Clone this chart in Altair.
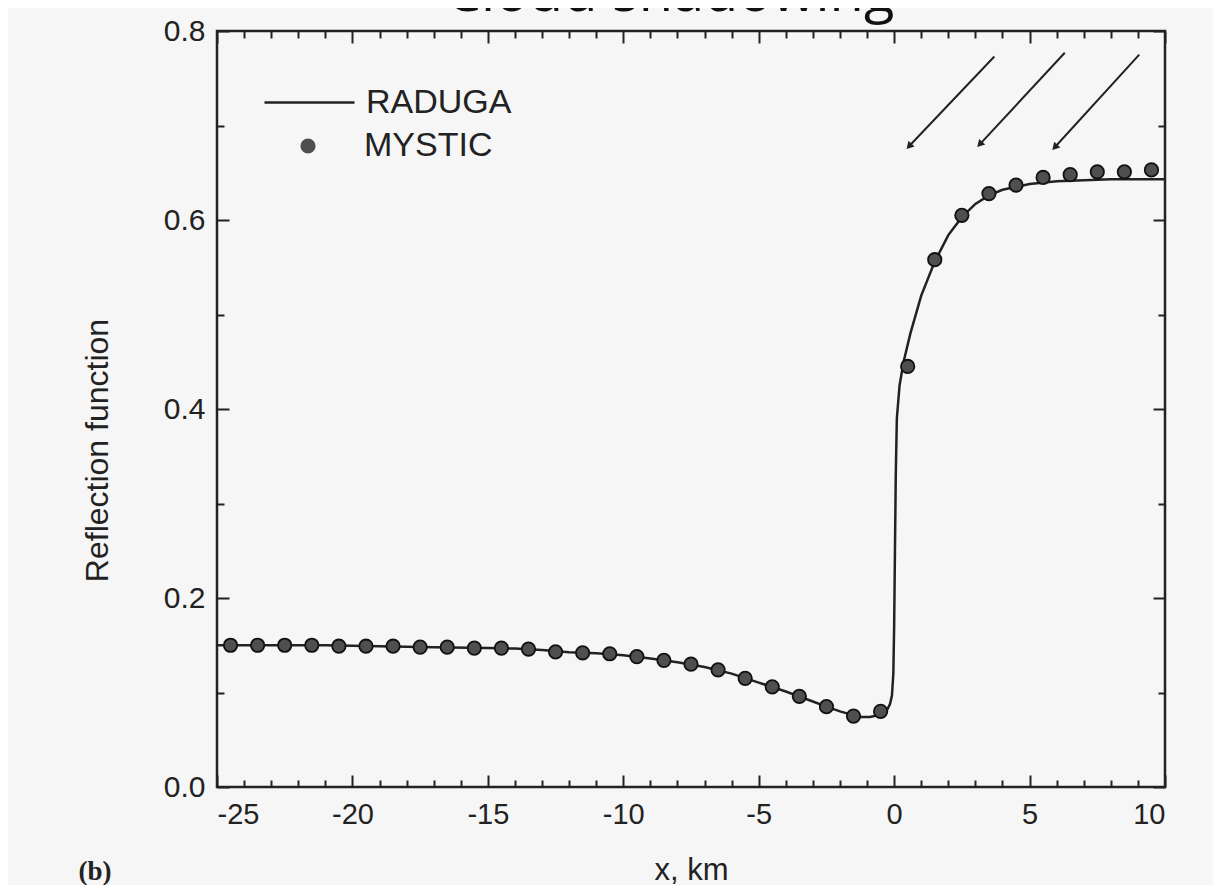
import altair as alt
import pandas as pd

# ---------------- data ----------------
X_MAJOR = [-25, -20, -15, -10, -5, 0, 5, 10]
X_MINOR = [v for v in range(-24, 10) if v % 5 != 0]
Y_MAJOR = [0.0, 0.2, 0.4, 0.6, 0.8]
Y_MINOR = [0.1, 0.3, 0.5, 0.7]

# RADUGA (solid line)
raduga_x = [-25, -23, -21, -19, -17, -15, -14, -13, -12, -11, -10, -9, -8, -7, -6, -5,
            -4, -3, -2.5, -2, -1.5, -1.2, -0.9, -0.6, -0.4, -0.25, -0.15, -0.08, -0.03,
            0.0, 0.03, 0.06, 0.1, 0.2, 0.35, 0.6, 1.0, 1.5, 2.0, 2.5, 3.0, 3.5, 4.0,
            5.0, 6.0, 7.0, 8.0, 10.0]
raduga_y = [0.150, 0.150, 0.150, 0.149, 0.148, 0.147, 0.1465, 0.145, 0.1425, 0.1415, 0.1395,
            0.136, 0.132, 0.127, 0.120, 0.1105, 0.101, 0.0905, 0.085, 0.080, 0.076, 0.074,
            0.074, 0.076, 0.078, 0.082, 0.088, 0.097, 0.12, 0.17, 0.25, 0.33, 0.39, 0.425,
            0.45, 0.48, 0.52, 0.556, 0.584, 0.603, 0.617, 0.626, 0.632, 0.638, 0.641,
            0.642, 0.643, 0.643]

# MYSTIC (dots)
mystic_x = [-24.5, -23.5, -22.5, -21.5, -20.5, -19.5, -18.5, -17.5, -16.5, -15.5, -14.5,
            -13.5, -12.5, -11.5, -10.5, -9.5, -8.5, -7.5, -6.5, -5.5, -4.5, -3.5, -2.5,
            -1.5, -0.5, 0.5, 1.5, 2.5, 3.5, 4.5, 5.5, 6.5, 7.5, 8.5, 9.5]
mystic_y = [0.150, 0.150, 0.150, 0.150, 0.149, 0.149, 0.149, 0.148, 0.148, 0.147, 0.147,
            0.146, 0.143, 0.142, 0.141, 0.138, 0.134, 0.130, 0.124, 0.115, 0.106, 0.096,
            0.085, 0.075, 0.080, 0.445, 0.558, 0.605, 0.628, 0.637, 0.645, 0.648, 0.651,
            0.651, 0.653]

# sun-direction arrows (start -> end, data units)
arrow_x_start = [3.7, 6.3, 9.05]
arrow_y_start = [0.773, 0.777, 0.775]
arrow_x_end = [0.55, 3.16, 5.93]
arrow_y_end = [0.678, 0.680, 0.677]

TITLE = "Cloud shadowing"
PANEL = "(b)"

# ---------------- layout ----------------
W, H = 948, 756
FONT = "Liberation Sans"
INK = "#222222"

df_line = pd.DataFrame({"x": raduga_x, "y": raduga_y, "series": "RADUGA"})
df_pts = pd.DataFrame({"x": mystic_x, "y": mystic_y, "series2": "MYSTIC"})
df_arr = pd.DataFrame({"x1": arrow_x_start, "y1": arrow_y_start,
                       "x2": arrow_x_end, "y2": arrow_y_end})

xs = alt.Scale(domain=[-25, 10], nice=False, zero=False)
ys = alt.Scale(domain=[0, 0.8], nice=False, zero=False)


def tick_axis(orient, values, size, offset):
    return alt.Axis(orient=orient, offset=offset, values=values, tickSize=size,
                    tickWidth=2, tickColor=INK, labels=False, domain=False,
                    grid=False, title=None)


x_label_axis = alt.Axis(orient="bottom", values=X_MAJOR, ticks=False, domain=False,
                        grid=False, labelFont=FONT, labelFontSize=29, labelColor=INK,
                        labelPadding=13,
                        labelExpr="datum.value < 0 ? '-' + abs(datum.value) : '' + datum.value",
                        title="x, km", titleFont=FONT,
                        titleFontSize=31, titleFontWeight="normal", titleColor=INK,
                        titleY=92, titleBaseline="alphabetic")
y_label_axis = alt.Axis(orient="left", values=Y_MAJOR, format=".1f", ticks=False,
                        domain=False, grid=False, labelFont=FONT, labelFontSize=30,
                        labelColor=INK, labelPadding=12, title="Reflection function",
                        titleFont=FONT, titleFontSize=32, titleFontWeight="normal",
                        titleColor=INK, titleX=-120, titleY=419, titleAlign="center",
                        titleBaseline="middle")

line = alt.Chart(df_line).mark_line(strokeWidth=2.5).encode(
    x=alt.X("x:Q", scale=xs, axis=x_label_axis),
    y=alt.Y("y:Q", scale=ys, axis=y_label_axis),
    color=alt.Color("series:N", scale=alt.Scale(domain=["RADUGA"], range=[INK]),
                    legend=alt.Legend(orient="none", legendX=46, legendY=25, title=None,
                                      symbolType="stroke", symbolSize=8100,
                                      symbolStrokeWidth=2.5, labelFont=FONT,
                                      labelFontSize=34, labelColor=INK, labelOffset=10,
                                      padding=0)),
)

pts = alt.Chart(df_pts).mark_point(filled=True, size=180, color="#4f4f4f", stroke="#111111",
                                   strokeWidth=1.8, opacity=1).encode(
    x=alt.X("x:Q", scale=xs, axis=tick_axis("top", X_MAJOR, 12, -H)),
    y=alt.Y("y:Q", scale=ys, axis=tick_axis("right", Y_MAJOR, 12, -W)),
    shape=alt.Shape("series2:N", scale=alt.Scale(domain=["MYSTIC"], range=["circle"]),
                    legend=alt.Legend(orient="none", legendX=74, legendY=98, title=None,
                                      symbolSize=230, symbolFillColor="#4f4f4f",
                                      symbolStrokeColor="#111111", symbolStrokeWidth=1.8,
                                      labelFont=FONT, labelFontSize=34, labelColor=INK,
                                      labelOffset=39, padding=0)),
)

arrows = alt.Chart(df_arr).mark_rule(strokeWidth=2, color=INK).encode(
    x=alt.X("x1:Q", scale=xs, axis=tick_axis("bottom", X_MAJOR, 12, -H)),
    y=alt.Y("y1:Q", scale=ys, axis=tick_axis("left", Y_MAJOR, 12, -W)),
    x2="x2:Q",
    y2="y2:Q",
)

heads = alt.Chart(df_arr).mark_point(shape="triangle-up", angle=223, filled=True,
                                     size=70, color=INK, opacity=1).encode(
    x=alt.X("x2:Q", scale=xs, axis=tick_axis("top", X_MINOR, 7, -H)),
    y=alt.Y("y2:Q", scale=ys, axis=tick_axis("right", Y_MINOR, 7, -W)),
)

minor2 = alt.Chart(df_line).mark_line(opacity=0).encode(
    x=alt.X("x:Q", scale=xs, axis=tick_axis("bottom", X_MINOR, 7, -H)),
    y=alt.Y("y:Q", scale=ys, axis=tick_axis("left", Y_MINOR, 7, -W)),
)

title = alt.Chart(pd.DataFrame({"t": [TITLE]})).mark_text(
    font="Open Sans", fontSize=56, color="#111111", align="center",
    baseline="alphabetic").encode(
    text="t:N", x=alt.value(453), y=alt.value(-20))

panel = alt.Chart(pd.DataFrame({"t": [PANEL]})).mark_text(
    font="Liberation Serif", fontSize=27, fontWeight="bold", color=INK,
    align="center", baseline="middle").encode(
    text="t:N", x=alt.value(-122), y=alt.value(841))

chart = alt.layer(line, pts, arrows, heads, minor2, title, panel).resolve_axis(
    x="independent", y="independent"
).resolve_legend(color="independent", shape="independent").properties(
    width=W, height=H,
    autosize=alt.AutoSizeParams(type="none"),
    padding={"left": 209, "top": 23, "right": 48, "bottom": 98},
    background="#f6f6f6",
).configure_view(stroke=INK, strokeWidth=2.5)

chart.save("out.html", embed_options={"renderer": "svg", "actions": False})
